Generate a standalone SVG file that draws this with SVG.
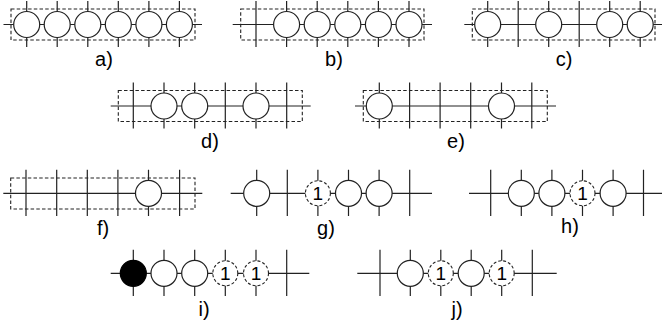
<svg xmlns="http://www.w3.org/2000/svg" width="663" height="325" viewBox="0 0 663 325">
<style>
.ln{stroke:#222;stroke-width:1.2;fill:none}
.c{fill:#fff;stroke:#222;stroke-width:1.2}
.cb{fill:#000;stroke:#000;stroke-width:1.2}
.cd{fill:#fff;stroke:#222;stroke-width:1.1;stroke-dasharray:3 2}
.box{fill:none;stroke:#222;stroke-width:1.1;stroke-dasharray:3.5 2.2}
.lbl{font-family:"Liberation Sans",Arial,sans-serif;font-size:20px;fill:#000;text-anchor:middle}
.one{font-family:"Liberation Sans",Arial,sans-serif;font-size:19px;fill:#000;text-anchor:middle}
</style>
<rect width="663" height="325" fill="#fff"/>
<g id="connectors">
<path class="ln" d="M3.5,24.5H202 M26.7,1V47 M57.2,1V47 M87.8,1V47 M118.3,1V47 M148.9,1V47 M179.4,1V47"/>
<path class="ln" d="M232.7,24.5H432 M256,1V47 M286.6,1V47 M317.2,1V47 M347.8,1V47 M378.4,1V47 M409,1V47"/>
<path class="ln" d="M464.3,24.5H662 M487.7,1V47 M518.2,1V47 M548.7,1V47 M579.2,1V47 M609.7,1V47 M640.2,1V47"/>
<path class="ln" d="M110.7,106H310.7 M133.3,82.5V128.5 M164,82.5V128.5 M194.7,82.5V128.5 M225.3,82.5V128.5 M256,82.5V128.5 M286.7,82.5V128.5"/>
<path class="ln" d="M355,106H556 M379.3,82.5V128.5 M409.6,82.5V128.5 M440.1,82.5V128.5 M470.7,82.5V128.5 M501.5,82.5V128.5 M531.8,82.5V128.5"/>
<path class="ln" d="M3.3,193.3H202.3 M26,169.8V216 M56.7,169.8V216 M87.3,169.8V216 M117.9,169.8V216 M148.5,169.8V216 M179.6,169.8V216"/>
<path class="ln" d="M230.7,193.3H432 M256.7,169.8V216 M287.3,169.8V216 M317.9,169.8V216 M348.5,169.8V216 M379.1,169.8V216 M409.7,169.8V216"/>
<path class="ln" d="M469,193.3H662 M490.7,169.8V216 M521.3,169.8V216 M551.9,169.8V216 M582.5,169.8V216 M613.1,169.8V216 M643.5,169.8V216"/>
<path class="ln" d="M110.7,273.3H309.3 M133.3,249.8V296 M164,249.8V296 M194.7,249.8V296 M225.3,249.8V296 M256,249.8V296 M286.7,249.8V296"/>
<path class="ln" d="M357.3,273.3H556.7 M380,249.8V296 M410.3,249.8V296 M440.8,249.8V296 M471.2,249.8V296 M501.7,249.8V296 M532.3,249.8V296"/>
</g>
<g id="panel-a">
<rect class="box" x="11" y="9" width="184" height="31"/>
<circle class="c" cx="26.7" cy="24.5" r="13"/>
<circle class="c" cx="57.2" cy="24.5" r="13"/>
<circle class="c" cx="87.8" cy="24.5" r="13"/>
<circle class="c" cx="118.3" cy="24.5" r="13"/>
<circle class="c" cx="148.9" cy="24.5" r="13"/>
<circle class="c" cx="179.4" cy="24.5" r="13"/>
<text class="lbl" x="104" y="65.5">a)</text>
</g>
<g id="panel-b">
<rect class="box" x="240.7" y="9" width="183.3" height="31"/>
<circle class="c" cx="286.6" cy="24.5" r="13"/>
<circle class="c" cx="317.2" cy="24.5" r="13"/>
<circle class="c" cx="347.8" cy="24.5" r="13"/>
<circle class="c" cx="378.4" cy="24.5" r="13"/>
<circle class="c" cx="409" cy="24.5" r="13"/>
<text class="lbl" x="334" y="65.5">b)</text>
</g>
<g id="panel-c">
<rect class="box" x="472.3" y="9" width="182.7" height="31"/>
<circle class="c" cx="487.7" cy="24.5" r="13"/>
<circle class="c" cx="548.7" cy="24.5" r="13"/>
<circle class="c" cx="609.7" cy="24.5" r="13"/>
<circle class="c" cx="640.2" cy="24.5" r="13"/>
<text class="lbl" x="564" y="65.5">c)</text>
</g>
<g id="panel-d">
<rect class="box" x="118.3" y="90.5" width="184" height="31"/>
<circle class="c" cx="164" cy="106" r="13"/>
<circle class="c" cx="194.7" cy="106" r="13"/>
<circle class="c" cx="256" cy="106" r="13"/>
<text class="lbl" x="210" y="147.5">d)</text>
</g>
<g id="panel-e">
<rect class="box" x="363.3" y="90.5" width="184" height="31"/>
<circle class="c" cx="379.3" cy="106" r="13"/>
<circle class="c" cx="501.5" cy="106" r="13"/>
<text class="lbl" x="456" y="147.5">e)</text>
</g>
<g id="panel-f">
<rect class="box" x="10.7" y="178" width="184.3" height="31"/>
<circle class="c" cx="148.5" cy="193.3" r="13"/>
<text class="lbl" x="103" y="235">f)</text>
</g>
<g id="panel-g">
<circle class="c" cx="256.7" cy="193.3" r="13"/>
<circle class="cd" cx="317.9" cy="193.3" r="12.5"/>
<text class="one" x="317.9" y="200">1</text>
<circle class="c" cx="348.5" cy="193.3" r="13"/>
<circle class="c" cx="379.1" cy="193.3" r="13"/>
<text class="lbl" x="326" y="235">g)</text>
</g>
<g id="panel-h">
<circle class="c" cx="521.3" cy="193.3" r="13"/>
<circle class="c" cx="551.9" cy="193.3" r="13"/>
<circle class="cd" cx="582.5" cy="193.3" r="12.5"/>
<text class="one" x="582.5" y="200">1</text>
<circle class="c" cx="613.1" cy="193.3" r="13"/>
<text class="lbl" x="570" y="233">h)</text>
</g>
<g id="panel-i">
<circle class="cb" cx="133.3" cy="273.3" r="13"/>
<circle class="c" cx="164" cy="273.3" r="13"/>
<circle class="c" cx="194.7" cy="273.3" r="13"/>
<circle class="cd" cx="225.3" cy="273.3" r="12.5"/>
<text class="one" x="225.3" y="280">1</text>
<circle class="cd" cx="256" cy="273.3" r="12.5"/>
<text class="one" x="256" y="280">1</text>
<text class="lbl" x="204" y="316">i)</text>
</g>
<g id="panel-j">
<circle class="c" cx="410.3" cy="273.3" r="13"/>
<circle class="cd" cx="440.8" cy="273.3" r="12.5"/>
<text class="one" x="440.8" y="280">1</text>
<circle class="c" cx="471.2" cy="273.3" r="13"/>
<circle class="cd" cx="501.7" cy="273.3" r="12.5"/>
<text class="one" x="501.7" y="280">1</text>
<text class="lbl" x="457" y="316">j)</text>
</g>
</svg>
